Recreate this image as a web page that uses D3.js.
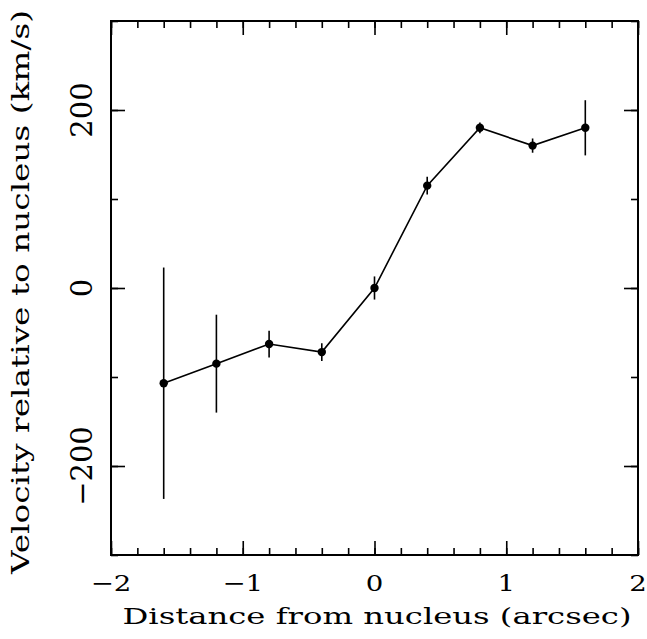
<!DOCTYPE html>
<html lang="en">
<head>
<meta charset="UTF-8">
<title>Velocity relative to nucleus</title>
<script src="https://d3js.org/d3.v7.min.js"></script>
<style>
    body { margin: 0; background: #fff; }
    svg text { font-family: 'DejaVu Serif', serif; fill: #000; }
    .axis path { display: none; }
    .axis line { stroke: #000; stroke-width: 1.6px; }
</style>
</head>
<body>
<svg width="647" height="639"></svg>
<script>
    // data
    const distance = [-1.6, -1.2, -0.8, -0.4, 0, 0.4, 0.8, 1.2, 1.6];
    const velocity = [-107, -85, -63, -72, 0, 115, 180, 160, 180];
    const velErr = [130, 55, 15, 10, 13, 10, 6, 8, 31];

    const xMajor = [-2, -1, 0, 1, 2];
    const yMajor = [-200, 0, 200];

    const plotL = 111, plotR = 638, plotT = 21, plotB = 555;

    const svg = d3.select("svg");

    const x = d3.scaleLinear().domain([-2, 2]).range([plotL, plotR]);
    const y = d3.scaleLinear().domain([-300, 300]).range([plotB, plotT]);

    const fmt = d => d3.format("d")(d);

    // ticks on all four sides, pointing inward
    function ticks(axis, tx, ty, vals, size) {
        svg.append("g").attr("class", "axis")
            .attr("transform", `translate(${tx},${ty})`)
            .call(axis.tickValues(vals).tickSize(-size).tickFormat(""));
    }
    const xMinor = x.ticks(20), yMinor = y.ticks(6);
    ticks(d3.axisBottom(x), 0, plotB, xMinor, 7);
    ticks(d3.axisTop(x), 0, plotT, xMinor, 7);
    ticks(d3.axisLeft(y), plotL, 0, yMinor, 7);
    ticks(d3.axisRight(y), plotR, 0, yMinor, 7);
    ticks(d3.axisBottom(x), 0, plotB, xMajor, 14);
    ticks(d3.axisTop(x), 0, plotT, xMajor, 14);
    ticks(d3.axisLeft(y), plotL, 0, yMajor, 14);
    ticks(d3.axisRight(y), plotR, 0, yMajor, 14);

    // frame
    svg.append("rect")
        .attr("x", plotL).attr("y", plotT)
        .attr("width", plotR - plotL).attr("height", plotB - plotT)
        .attr("fill", "none").attr("stroke", "#000").attr("stroke-width", 2);

    // tick labels
    svg.append("g").selectAll("text").data(xMajor).join("text")
        .attr("transform", d => `translate(${x(d)},591) scale(1.2,1)`)
        .attr("text-anchor", "middle")
        .attr("font-size", 23)
        .text(fmt);

    svg.append("g").selectAll("text").data(yMajor).join("text")
        .attr("transform", d => `translate(92,${y(d)}) rotate(-90)`)
        .attr("text-anchor", "middle")
        .attr("font-size", 29)
        .text(fmt);

    // axis titles
    svg.append("text")
        .attr("transform", "translate(377,624)")
        .attr("text-anchor", "middle")
        .attr("font-size", 23)
        .attr("textLength", 509).attr("lengthAdjust", "spacingAndGlyphs")
        .text("Distance from nucleus (arcsec)");

    svg.append("text")
        .attr("transform", "translate(29,292) rotate(-90)")
        .attr("text-anchor", "middle")
        .attr("font-size", 25)
        .attr("textLength", 564).attr("lengthAdjust", "spacingAndGlyphs")
        .text("Velocity relative to nucleus (km/s)");

    const pts = distance.map((d, i) => ({ x: d, v: velocity[i], e: velErr[i] }));

    // error bars
    svg.append("g").selectAll("line").data(pts).join("line")
        .attr("x1", d => x(d.x)).attr("x2", d => x(d.x))
        .attr("y1", d => y(d.v + d.e)).attr("y2", d => y(d.v - d.e))
        .attr("stroke", "#000").attr("stroke-width", 1.6);

    // connecting line
    svg.append("path").datum(pts)
        .attr("d", d3.line().x(d => x(d.x)).y(d => y(d.v)))
        .attr("fill", "none").attr("stroke", "#000").attr("stroke-width", 1.6);

    // points
    svg.append("g").selectAll("circle").data(pts).join("circle")
        .attr("cx", d => x(d.x)).attr("cy", d => y(d.v))
        .attr("r", 4.2).attr("fill", "#000");
</script>
</body>
</html>
